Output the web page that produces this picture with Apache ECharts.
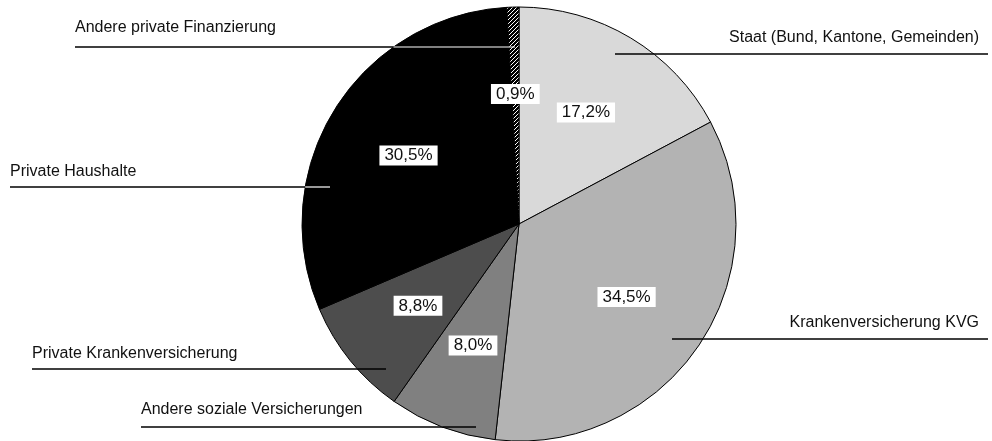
<!DOCTYPE html>
<html><head><meta charset="utf-8">
<script src="https://cdn.jsdelivr.net/npm/echarts@6/dist/echarts.min.js"></script>
<style>html,body{margin:0;padding:0;background:#fff}#c{width:992px;height:441px}</style>
</head><body><div id="c"></div>
<script>
// ---- data ----
const categories = ['Staat (Bund, Kantone, Gemeinden)', 'Krankenversicherung KVG', 'Andere soziale Versicherungen', 'Private Krankenversicherung', 'Private Haushalte', 'Andere private Finanzierung'];
const shares = [17.2, 34.5, 8.0, 8.8, 30.5, 0.9];

// ---- styling / layout (not data) ----
const sliceColors = ['#d9d9d9', '#b3b3b3', '#808080', '#4d4d4d', '#000000', 'hatch'];
const CX = 519, CY = 224, R = 217;
const PCT_R = 130;
// callout annotation layout: inner start x, line y, outer x, side
const calloutInnerX = [615, 672, 476, 386, 330, 515];
const calloutY = [54, 339, 427, 369, 187, 47];
const calloutOuterX = [988, 988, 141, 32, 10, 75];
const calloutSide = ['right', 'right', 'left', 'left', 'left', 'left'];
const calloutTextGap = [8, 8, 9, 7, 7, 11];
const insideLineColor = ['#000', '#000', '#000', '#000', '#fff', '#fff'];
const FONT = "'Liberation Sans', Helvetica, Arial, sans-serif";

function hatchPattern() {
  const s = 4, c = document.createElement('canvas');
  c.width = s; c.height = s;
  const g = c.getContext('2d');
  g.fillStyle = '#000'; g.fillRect(0, 0, s, s);
  g.strokeStyle = '#fff'; g.lineWidth = 1;
  g.beginPath();
  g.moveTo(-1, s + 1); g.lineTo(s + 1, -1);
  g.moveTo(-1, 1); g.lineTo(1, -1);
  g.moveTo(s - 1, s + 1); g.lineTo(s + 1, s - 1);
  g.stroke();
  return { image: c, repeat: 'repeat' };
}

const total = shares.reduce((a, b) => a + b, 0);
const midFrac = [];
{ let cum = 0; shares.forEach(v => { midFrac.push((cum + v / 2) / total); cum += v; }); }
function polar(frac, r) { const a = frac * 2 * Math.PI; return [CX + r * Math.sin(a), CY - r * Math.cos(a)]; }
function edgeX(i) {
  const dy = calloutY[i] - CY; const h = Math.sqrt(Math.max(0, R * R - dy * dy));
  return calloutSide[i] === 'right' ? CX + h : CX - h;
}

const mainData = categories.map((n, i) => ({
  name: n, value: shares[i],
  itemStyle: { color: sliceColors[i] === 'hatch' ? hatchPattern() : sliceColors[i] }
}));
const ghostData = categories.map((n, i) => ({ name: n, value: shares[i] }));

const common = {
  type: 'pie', center: [CX, CY], radius: R, startAngle: 90, clockwise: true,
  silent: true, animation: false, avoidLabelOverlap: false
};

const option = {
  backgroundColor: '#fff',
  series: [
    // callout texts + full lines, beneath the pie
    Object.assign({}, common, {
      z: 1,
      data: ghostData,
      itemStyle: { color: 'rgba(0,0,0,0)', borderWidth: 0 },
      label: { show: true, position: 'outside', formatter: '{b}', color: '#111', fontSize: 16, fontFamily: FONT },
      labelLine: { show: true, lineStyle: { color: '#000', width: 1.5 } },
      labelLayout: function (p) {
        const i = p.dataIndex, y = calloutY[i];
        const right = calloutSide[i] === 'right';
        const x1 = calloutInnerX[i], x2 = calloutOuterX[i];
        return {
          x: right ? x2 - 9 : x2, y: y - calloutTextGap[i],
          align: right ? 'right' : 'left', verticalAlign: 'bottom',
          labelLinePoints: [[x1, y], [(x1 + x2) / 2, y], [x2, y]]
        };
      }
    }),
    // the pie itself with percentage labels
    Object.assign({}, common, {
      z: 2,
      data: mainData,
      itemStyle: { borderColor: '#000', borderWidth: 1 },
      label: {
        show: true, position: 'inside',
        formatter: p => p.value.toFixed(1).replace('.', ',') + '%',
        color: '#111', fontSize: 17, fontFamily: FONT,
        backgroundColor: '#fff', padding: [2, 5, 1, 5]
      },
      labelLine: { show: false },
      labelLayout: function (p) {
        const pt = polar(midFrac[p.dataIndex], PCT_R);
        return { x: pt[0], y: pt[1], align: 'center', verticalAlign: 'middle' };
      }
    }),
    // inside parts of callout lines, above the pie
    Object.assign({}, common, {
      z: 3,
      data: ghostData.map((d, i) => Object.assign({}, d, {
        labelLine: { lineStyle: { color: insideLineColor[i], width: insideLineColor[i] === '#fff' ? 1.2 : 1.5 } }
      })),
      itemStyle: { color: 'rgba(0,0,0,0)', borderWidth: 0 },
      label: { show: true, position: 'outside', formatter: ' ', color: 'rgba(0,0,0,0)', fontSize: 2 },
      labelLine: { show: true },
      labelLayout: function (p) {
        const i = p.dataIndex, y = calloutY[i], ex = edgeX(i);
        return {
          x: ex, y: y,
          labelLinePoints: [[calloutInnerX[i], y], [ex, y], [ex, y]]
        };
      }
    })
  ]
};
const chart = echarts.init(document.getElementById('c'), null, { renderer: 'canvas' });
chart.setOption(option);
</script>
</body></html>
